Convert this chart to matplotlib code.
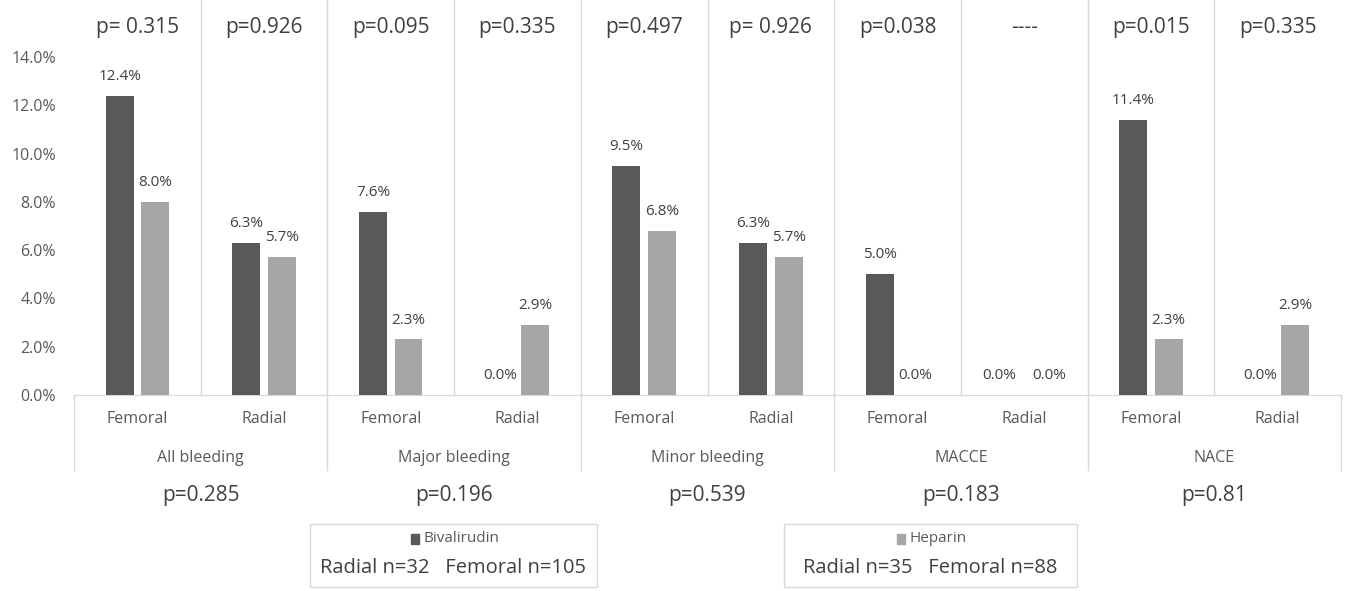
import numpy as np
import matplotlib.pyplot as plt
from matplotlib.patches import Rectangle
from matplotlib.ticker import FuncFormatter

plt.rcParams['font.family'] = ['Open Sans', 'DejaVu Sans']

# datos
groups = ["All bleeding", "Major bleeding", "Minor bleeding", "MACCE", "NACE"]
access = ["Femoral", "Radial"]
bivalirudin = [12.4, 6.3, 7.6, 0.0, 9.5, 6.3, 5.0, 0.0, 11.4, 0.0]
heparin = [8.0, 5.7, 2.3, 2.9, 6.8, 5.7, 0.0, 0.0, 2.3, 2.9]
p_access = ["p= 0.315", "p=0.926", "p=0.095", "p=0.335", "p=0.497",
            "p= 0.926", "p=0.038", "----", "p=0.015", "p=0.335"]
p_groups = ["p=0.285", "p=0.196", "p=0.539", "p=0.183", "p=0.81"]
legend_names = ["Bivalirudin", "Heparin"]
legend_n = ["Radial n=32   Femoral n=105", "Radial n=35   Femoral n=88"]

DARK = "#595959"
LIGHT = "#a6a6a6"
GRID = "#d9d9d9"
TXT = "#595959"
TXT2 = "#404040"

W, H = 1348, 591
fig = plt.figure(figsize=(W / 100, H / 100), dpi=100)
ax = fig.add_axes([74 / W, 1 - 395 / H, 1267 / W, 395 / H])

x = np.arange(len(bivalirudin))
off = 0.14
ax.bar(x - off, bivalirudin, 0.22, color=DARK, zorder=3)
ax.bar(x + off, heparin, 0.22, color=LIGHT, zorder=3)
ax.set_xlim(-0.5, 9.5)
ax.set_ylim(0, 395 / 24.14)

ax.set_yticks(np.arange(0, 15, 2))
ax.yaxis.set_major_formatter(FuncFormatter(lambda v, _: f"{v:.1f}%"))
ax.tick_params(axis="y", length=0, pad=13, labelsize=11.5, labelcolor=TXT)
ax.set_xticks([])
for s in ["top", "right", "left"]:
    ax.spines[s].set_visible(False)
ax.spines["bottom"].set_color(GRID)

# etiquetas de valor (si las dos son 0 se separan un poco, como hace Excel)
for xi, vb, vh in zip(x, bivalirudin, heparin):
    nudge = 5 if (vb == 0 and vh == 0) else 0
    ax.annotate(f"{vb:.1f}%", (xi - off, vb), xytext=(-nudge, 14), textcoords="offset points",
                ha="center", va="center", fontsize=11, color=TXT2)
    ax.annotate(f"{vh:.1f}%", (xi + off, vh), xytext=(nudge, 14), textcoords="offset points",
                ha="center", va="center", fontsize=11, color=TXT2)

# separadores
tr = ax.get_xaxis_transform()
ylow = -(470 - 395) / 395
for k in range(9):
    xk = k + 0.5
    if k % 2 == 1:
        ax.plot([xk, xk], [ylow, 1], transform=tr, clip_on=False, color=GRID, lw=1)
    else:
        ax.plot([xk, xk], [0, 1], transform=tr, clip_on=False, color=GRID, lw=1)
for xk in [-0.5, 9.5]:
    ax.plot([xk, xk], [ylow, 0], transform=tr, clip_on=False, color=GRID, lw=1)

# textos de categorias
for i in range(len(bivalirudin)):
    ax.text(i, -(419 - 395) / 395, access[i % 2], transform=tr, ha="center", va="center",
            fontsize=11.5, color=TXT)
    ax.text(i, 1 - 27 / 395, p_access[i], transform=tr, ha="center", va="center",
            fontsize=15, color=TXT2)
for g, name in enumerate(groups):
    ax.text(2 * g + 0.5, -(458 - 395) / 395, name, transform=tr, ha="center", va="center",
            fontsize=11.5, color=TXT)
    ax.text(2 * g + 0.5, -(496 - 395) / 395, p_groups[g], transform=tr, ha="center",
            va="center", fontsize=15, color=TXT2)

# leyendas
def fx(px):
    return px / W

def fy(py):
    return 1 - py / H

boxes = [(310, 597), (784, 1077)]
for (x0, x1), name, ntext, col in zip(boxes, legend_names, legend_n, [DARK, LIGHT]):
    fig.patches.append(Rectangle((fx(x0), fy(587)), fx(x1 - x0), (587 - 524) / H,
                                 transform=fig.transFigure, fill=False, edgecolor=GRID, lw=1))
    cx = (x0 + x1) / 2
    t = fig.text(fx(cx + 8), fy(539), name, ha="center", va="center", fontsize=11, color=TXT)
    fig.text(fx(cx), fy(568), ntext, ha="center", va="center", fontsize=14.5, color=TXT2)
    fig.canvas.draw()
    bb = t.get_window_extent()
    fig.patches.append(Rectangle((bb.x0 / W - 13 / W, fy(544)), 8 / W, 10 / H,
                                 transform=fig.transFigure, color=col))

fig.savefig("out.png", dpi=100)
